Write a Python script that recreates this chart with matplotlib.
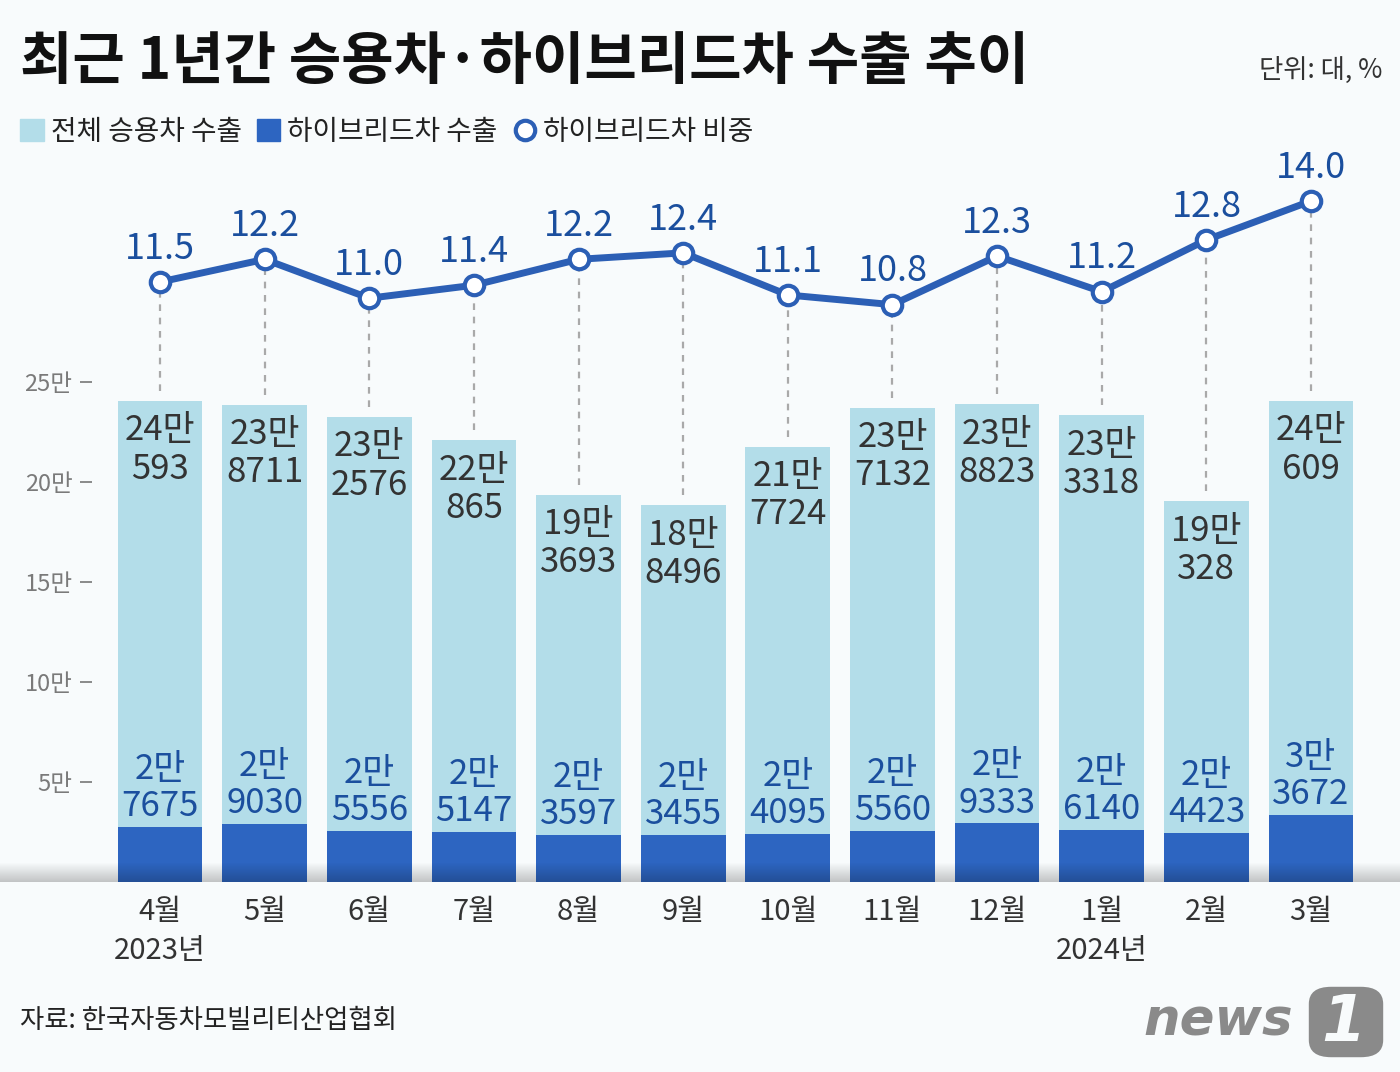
import numpy as np
import matplotlib
matplotlib.use("Agg")
import matplotlib.pyplot as plt
from matplotlib.patches import Patch, FancyBboxPatch
from matplotlib.lines import Line2D

plt.rcParams['font.family'] = ['Noto Sans CJK KR', 'DejaVu Sans']

# --- data -------------------------------------------------------------
months = ["4월", "5월", "6월", "7월", "8월", "9월",
          "10월", "11월", "12월", "1월", "2월", "3월"]
year_labels = {0: "2023년", 9: "2024년"}
total_exports = [240593, 238711, 232576, 220865, 193693, 188496,
                 217724, 237132, 238823, 233318, 190328, 240609]
hybrid_exports = [27675, 29030, 25556, 25147, 23597, 23455,
                  24095, 25560, 29333, 26140, 24423, 33672]
hybrid_share = [11.5, 12.2, 11.0, 11.4, 12.2, 12.4,
                11.1, 10.8, 12.3, 11.2, 12.8, 14.0]
y_ticks = [50000, 100000, 150000, 200000, 250000]

# --- style ------------------------------------------------------------
BG = "#f8fbfc"
LIGHT = "#b3dde9"
DARK = "#2d65c1"
LINE = "#2c5fb5"
BLUE_TXT = "#1b4f9e"
GRAY_TXT = "#7a7a7a"

W, H = 1400, 1072


def fx(px):
    return px / W


def fy(py):
    return 1 - py / H


fig = plt.figure(figsize=(14, 10.72), dpi=100)
fig.patch.set_facecolor(BG)

# main axes: zero at pixel 882, top at pixel 140
y_bot, y_top = 882, 140
ax = fig.add_axes([fx(92), fy(y_bot), fx(1390) - fx(92), (y_bot - y_top) / H])
ax.set_facecolor("none")
YMAX = 371000
ax.set_ylim(0, YMAX)
step = 104.64
x = np.arange(len(months))
ax.set_xlim((92 - 160) / step, (1390 - 160) / step)

ax.bar(x, total_exports, width=0.81, color=LIGHT, zorder=2)
ax.bar(x, hybrid_exports, width=0.81, color=DARK, zorder=3)

for s in ax.spines.values():
    s.set_visible(False)

ax.set_yticks(y_ticks)
ax.set_yticklabels([f"{v // 10000}만" for v in y_ticks])
ax.tick_params(axis="y", length=9, width=1.4, color="#8a8a8a", pad=5,
               labelsize=17, labelcolor=GRAY_TXT)
ax.set_xticks(x)
ax.set_xticklabels(months)
ax.tick_params(axis="x", length=0, pad=11, labelsize=21, labelcolor="#333333")

for i, lab in year_labels.items():
    ax.annotate(lab, (i, 0), xytext=(0, -50), textcoords="offset points",
                ha="center", va="center", fontsize=21, color="#333333")

# bar labels
for i, (t, h) in enumerate(zip(total_exports, hybrid_exports)):
    ax.annotate(f"{t // 10000}만\n{t % 10000}", (i, t), xytext=(0, -9),
                textcoords="offset points", ha="center", va="top",
                fontsize=25, color="#333333", linespacing=1.12, zorder=4)
    ax.annotate(f"{h // 10000}만\n{h % 10000}", (i, h), xytext=(0, 2),
                textcoords="offset points", ha="center", va="bottom",
                fontsize=25, color=BLUE_TXT, linespacing=1.08, zorder=4)

# share line on a twin axis
Y2LO = 11.5 - (y_bot - 282) / 32.4
Y2HI = 11.5 + (282 - y_top) / 32.4
ax2 = ax.twinx()
ax2.set_ylim(Y2LO, Y2HI)
ax2.axis("off")

dash_bottom = [Y2LO + (t + 10 * YMAX / (y_bot - y_top)) / YMAX * (Y2HI - Y2LO)
               for t in total_exports]
ax2.vlines(x, dash_bottom, hybrid_share, colors="#a9a9a9",
           linestyles=(0, (3, 3)), lw=1.6, zorder=1)
ax2.plot(x, hybrid_share, color=LINE, lw=5, marker="o", ms=14,
         mfc="white", mec=LINE, mew=3, zorder=5)
for i, v in enumerate(hybrid_share):
    ax2.annotate(f"{v:.1f}", (i, v), xytext=(0, 11), textcoords="offset points",
                 ha="center", va="bottom", fontsize=26, color=BLUE_TXT)

# floor shadow overlay
floor = fig.add_axes([0, fy(882), 1, (882 - 862) / H])
grad = np.zeros((40, 1, 4))
grad[:, 0, 3] = np.linspace(0, 0.22, 40)
floor.imshow(grad, aspect="auto", extent=(0, 1, 0, 1), origin="upper")
floor.axis("off")
floor.set_zorder(10)

# title, unit, legend
fig.text(fx(20), fy(62), "최근 1년간 승용차·하이브리드차 수출 추이",
         fontsize=41, fontweight="bold", va="center", ha="left", color="#111111")
fig.text(fx(1382), fy(70), "단위: 대, %", fontsize=19, ha="right",
         va="center", color="#333333")

handles = [Patch(color=LIGHT), Patch(color=DARK),
           Line2D([], [], lw=0, marker="o", ms=14, mfc="white", mec=LINE, mew=3)]
labels = ["전체 승용차 수출", "하이브리드차 수출", "하이브리드차 비중"]
fig.legend(handles, labels, loc="center left", bbox_to_anchor=(fx(20), fy(132)),
           ncol=3, frameon=False, fontsize=20, handlelength=0.85, handleheight=0.85,
           handletextpad=0.25, columnspacing=0.55, borderaxespad=0, borderpad=0,
           labelcolor="#222222")

fig.text(fx(20), fy(1020), "자료: 한국자동차모빌리티산업협회", fontsize=19,
         ha="left", va="center", color="#222222")

# news1 logo
fig.text(fx(1143), fy(1022), "news", fontsize=37, fontweight="heavy",
         style="italic", family="DejaVu Sans", color="#8a8a8a",
         ha="left", va="center")
logo = FancyBboxPatch((fx(1313), fy(1054)), fx(66), (1054 - 990) / H,
                      boxstyle="round,pad=0.003,rounding_size=0.016",
                      transform=fig.transFigure, color="#8a8a8a", lw=0)
fig.patches.append(logo)
fig.text(fx(1344), fy(1023), "1", fontsize=46, fontweight="bold",
         style="italic", family="DejaVu Sans", color=BG,
         ha="center", va="center")

fig.savefig("out.png", dpi=100, facecolor=BG)
